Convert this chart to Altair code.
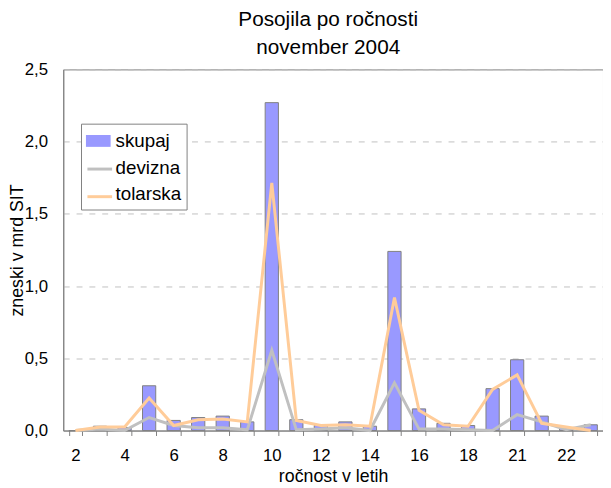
import altair as alt
import pandas as pd

categories = ["2", "3", "4", "5", "6", "7", "8", "9", "10", "11", "12", "13",
              "14", "15", "16", "17", "18", "20", "21", "25", "22", "30"]
shown_labels = ["2", "4", "6", "8", "10", "12", "14", "16", "18", "21", "22"]

skupaj = [0.0, 0.03, 0.02, 0.31, 0.07, 0.09, 0.10, 0.06, 2.27, 0.075, 0.035,
          0.06, 0.03, 1.24, 0.15, 0.05, 0.035, 0.29, 0.49, 0.10, 0.02, 0.04]
devizna = [0.0, 0.01, 0.0, 0.09, 0.035, 0.02, 0.02, 0.005, 0.555, 0.005, 0.01,
           0.02, 0.0, 0.33, 0.01, 0.01, 0.005, 0.0, 0.11, 0.06, 0.005, 0.04]
tolarska = [0.0, 0.025, 0.025, 0.225, 0.035, 0.075, 0.08, 0.06, 1.715, 0.07, 0.035,
            0.04, 0.03, 0.92, 0.14, 0.04, 0.03, 0.285, 0.385, 0.05, 0.025, 0.0]

legend_names = ["skupaj", "devizna", "tolarska"]
line_names = ["devizna", "tolarska"]
bar_color = "#9999FF"
line_colors = ["#C0C0C0", "#FFCC99"]

bars_df = pd.DataFrame({"cat": categories, "value": skupaj, "series": "skupaj"})
lines_df = pd.concat([
    pd.DataFrame({"cat": categories, "value": devizna, "line": "devizna"}),
    pd.DataFrame({"cat": categories, "value": tolarska, "line": "tolarska"}),
])

FONT = "Liberation Sans"
label_list = "[" + ",".join("'" + s + "'" for s in shown_labels) + "]"

x_enc = alt.X(
    "cat:N",
    sort=categories,
    scale=alt.Scale(paddingInner=0.46, paddingOuter=0.23),
    axis=alt.Axis(
        title="ročnost v letih",
        labelAngle=0,
        tickBand="extent",
        tickSize=5,
        labelPadding=12,
        labelExpr="indexof(" + label_list + ", datum.value) >= 0 ? datum.value : ''",
        grid=False,
        titleFontSize=18,
        titleFontWeight="normal",
        titleBaseline="alphabetic",
        titleY=52,
    ),
)

y_enc = alt.Y(
    "value:Q",
    scale=alt.Scale(domain=[0, 2.5]),
    axis=alt.Axis(
        title="zneski v mrd SIT",
        values=[0, 0.5, 1.0, 1.5, 2.0, 2.5],
        labelExpr="replace(format(datum.value, '.1f'), '.', ',')",
        ticks=False,
        labelPadding=16,
        grid=True,
        gridDash=[6, 7],
        gridColor="#C0C0C0",
        titleFontSize=18,
        titleFontWeight="normal",
        titleX=-37,
        titleY=183,
    ),
)

LX, LY = 18, 55
ROW = 27

legend_a = alt.Legend(
    title=None,
    orient="none",
    legendX=LX,
    legendY=LY,
    fillColor="white",
    strokeColor="#808080",
    padding=5,
    symbolSize=625,
    symbolOffset=0,
    symbolType="M-1,-0.48H1V0.48H-1Z",
    symbolStrokeWidth=0,
    labelFontSize=19,
    labelFont=FONT,
    labelColor="black",
    labelOffset=5,
    rowPadding=4,
)

legend_b = alt.Legend(
    title=None,
    orient="none",
    legendX=LX,
    legendY=LY + ROW,
    padding=5,
    symbolSize=625,
    symbolOffset=0,
    symbolType="stroke",
    symbolStrokeWidth=3,
    labelFontSize=19,
    labelFont=FONT,
    labelExpr="''",
    labelOffset=5,
    rowPadding=4,
)

bars = alt.Chart(bars_df).mark_bar(stroke="#808080", strokeWidth=1).encode(
    x=x_enc,
    y=y_enc,
    fill=alt.Fill("series:N",
                  scale=alt.Scale(domain=legend_names,
                                  range=[bar_color, "transparent", "transparent"]),
                  legend=legend_a),
)

lines = alt.Chart(lines_df).mark_line(strokeWidth=3).encode(
    x=x_enc,
    y=y_enc,
    stroke=alt.Stroke("line:N",
                      scale=alt.Scale(domain=line_names, range=line_colors),
                      legend=legend_b),
)

chart = alt.layer(bars, lines).properties(
    width=547,
    height=366,
    autosize=alt.AutoSizeParams(type="none"),
    padding={"left": 56, "top": 59, "right": 0, "bottom": 55},
    title=alt.TitleParams(
        text=["Posojila po ročnosti", "november 2004"],
        fontSize=21,
        fontWeight="normal",
        font=FONT,
        color="black",
        lineHeight=28,
        anchor="middle",
        dx=-5,
        offset=3,
    ),
).configure(
    font=FONT,
).configure_view(
    stroke="#808080",
    strokeWidth=1,
).configure_axis(
    domainColor="#808080",
    tickColor="#808080",
    labelFont=FONT,
    labelFontSize=17,
    labelColor="black",
    titleFont=FONT,
    titleColor="black",
)

chart.save("out.html", embed_options={"renderer": "svg", "actions": False})
